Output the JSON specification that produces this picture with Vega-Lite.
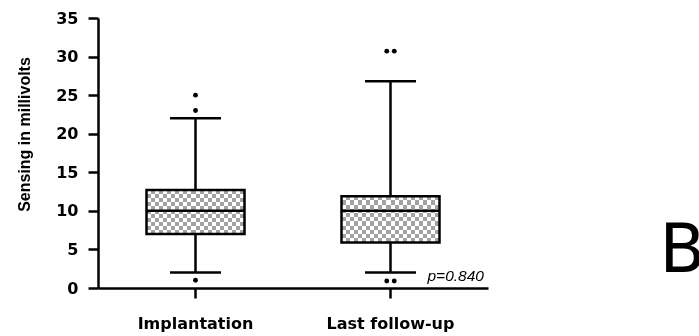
{
  "$schema": "https://vega.github.io/schema/vega-lite/v6.json",
  "width": 390,
  "height": 270,
  "padding": {"left": 16, "top": 10, "right": 0, "bottom": 5},
  "background": "white",
  "config": {
    "view": {"stroke": null},
    "axis": {
      "domainColor": "black", "domainWidth": 2.5, "tickColor": "black", "tickWidth": 2.5,
      "grid": false, "labelColor": "black", "titleColor": "black"
    },
    "axisY": {
      "tickCount": 7, "labelOverlap": false, "tickSize": 10, "labelPadding": 10,
      "labelFont": "DejaVu Sans", "labelFontWeight": "bold", "labelFontSize": 16,
      "titleFont": "Liberation Sans", "titleFontWeight": "bold", "titleFontSize": 16,
      "titlePadding": 23, "titleY": 116
    }
  },
  "datasets": {
    "boxes": [
      {"group": "Implantation", "lower": 2, "q1": 7, "median": 10, "q3": 12.7, "upper": 22},
      {"group": "Last follow-up", "lower": 2, "q1": 5.9, "median": 10, "q3": 11.9, "upper": 26.8}
    ],
    "outliers": [
      {"group": "Implantation", "value": 25, "copy": "only"},
      {"group": "Implantation", "value": 23, "copy": "only"},
      {"group": "Implantation", "value": 1, "copy": "only"},
      {"group": "Last follow-up", "value": 30.7, "copy": "1st"},
      {"group": "Last follow-up", "value": 30.7, "copy": "2nd"},
      {"group": "Last follow-up", "value": 0.9, "copy": "1st"},
      {"group": "Last follow-up", "value": 0.9, "copy": "2nd"}
    ],
    "pvalue": [{"group": "Last follow-up", "label": "p=0.840"}],
    "panel": [{"group": "Last follow-up", "label": "B"}]
  },
  "encoding": {
    "x": {
      "field": "group", "type": "nominal",
      "scale": {"domain": ["Implantation", "Last follow-up"], "paddingInner": 0, "paddingOuter": 0},
      "axis": {
        "title": null, "labelAngle": 0, "tickSize": 10, "labelPadding": 17,
        "labelFont": "DejaVu Sans", "labelFontWeight": "bold", "labelFontSize": 16
      }
    }
  },
  "layer": [
    {
      "data": {"name": "boxes"},
      "mark": {"type": "rule", "color": "black", "strokeWidth": 2.5},
      "encoding": {
        "y": {
          "field": "lower", "type": "quantitative",
          "scale": {"domain": [0, 35], "nice": false, "zero": true},
          "axis": {"title": "Sensing in millivolts"}
        },
        "y2": {"field": "upper"}
      }
    },
    {
      "data": {"name": "boxes"},
      "mark": {
        "type": "bar", "width": 98, "strokeWidth": 0,
        "fill": {
          "gradient": "linear", "x1": 0, "y1": 0, "x2": 1, "y2": 0,
          "stops": [
            {"offset": 0, "color": "#000000"}, {"offset": 0.041667, "color": "#000000"},
            {"offset": 0.041667, "color": "#5c5c5c"}, {"offset": 0.083333, "color": "#5c5c5c"},
            {"offset": 0.083333, "color": "#000000"}, {"offset": 0.125, "color": "#000000"},
            {"offset": 0.125, "color": "#5c5c5c"}, {"offset": 0.166667, "color": "#5c5c5c"},
            {"offset": 0.166667, "color": "#000000"}, {"offset": 0.208333, "color": "#000000"},
            {"offset": 0.208333, "color": "#5c5c5c"}, {"offset": 0.25, "color": "#5c5c5c"},
            {"offset": 0.25, "color": "#000000"}, {"offset": 0.291667, "color": "#000000"},
            {"offset": 0.291667, "color": "#5c5c5c"}, {"offset": 0.333333, "color": "#5c5c5c"},
            {"offset": 0.333333, "color": "#000000"}, {"offset": 0.375, "color": "#000000"},
            {"offset": 0.375, "color": "#5c5c5c"}, {"offset": 0.416667, "color": "#5c5c5c"},
            {"offset": 0.416667, "color": "#000000"}, {"offset": 0.458333, "color": "#000000"},
            {"offset": 0.458333, "color": "#5c5c5c"}, {"offset": 0.5, "color": "#5c5c5c"},
            {"offset": 0.5, "color": "#000000"}, {"offset": 0.541667, "color": "#000000"},
            {"offset": 0.541667, "color": "#5c5c5c"}, {"offset": 0.583333, "color": "#5c5c5c"},
            {"offset": 0.583333, "color": "#000000"}, {"offset": 0.625, "color": "#000000"},
            {"offset": 0.625, "color": "#5c5c5c"}, {"offset": 0.666667, "color": "#5c5c5c"},
            {"offset": 0.666667, "color": "#000000"}, {"offset": 0.708333, "color": "#000000"},
            {"offset": 0.708333, "color": "#5c5c5c"}, {"offset": 0.75, "color": "#5c5c5c"},
            {"offset": 0.75, "color": "#000000"}, {"offset": 0.791667, "color": "#000000"},
            {"offset": 0.791667, "color": "#5c5c5c"}, {"offset": 0.833333, "color": "#5c5c5c"},
            {"offset": 0.833333, "color": "#000000"}, {"offset": 0.875, "color": "#000000"},
            {"offset": 0.875, "color": "#5c5c5c"}, {"offset": 0.916667, "color": "#5c5c5c"},
            {"offset": 0.916667, "color": "#000000"}, {"offset": 0.958333, "color": "#000000"},
            {"offset": 0.958333, "color": "#5c5c5c"}, {"offset": 1, "color": "#5c5c5c"}
          ]
        }
      },
      "encoding": {
        "y": {"field": "q1", "type": "quantitative"},
        "y2": {"field": "q3"}
      }
    },
    {
      "data": {"name": "boxes"},
      "mark": {
        "type": "bar", "width": 98, "strokeWidth": 0, "blend": "difference",
        "fill": {
          "gradient": "linear", "x1": 0, "y1": 0, "x2": 0, "y2": 1,
          "stops": [
            {"offset": 0, "color": "#000000"}, {"offset": 0.090909, "color": "#000000"},
            {"offset": 0.090909, "color": "#5c5c5c"}, {"offset": 0.181818, "color": "#5c5c5c"},
            {"offset": 0.181818, "color": "#000000"}, {"offset": 0.272727, "color": "#000000"},
            {"offset": 0.272727, "color": "#5c5c5c"}, {"offset": 0.363636, "color": "#5c5c5c"},
            {"offset": 0.363636, "color": "#000000"}, {"offset": 0.454545, "color": "#000000"},
            {"offset": 0.454545, "color": "#5c5c5c"}, {"offset": 0.545455, "color": "#5c5c5c"},
            {"offset": 0.545455, "color": "#000000"}, {"offset": 0.636364, "color": "#000000"},
            {"offset": 0.636364, "color": "#5c5c5c"}, {"offset": 0.727273, "color": "#5c5c5c"},
            {"offset": 0.727273, "color": "#000000"}, {"offset": 0.818182, "color": "#000000"},
            {"offset": 0.818182, "color": "#5c5c5c"}, {"offset": 0.909091, "color": "#5c5c5c"},
            {"offset": 0.909091, "color": "#000000"}, {"offset": 1, "color": "#000000"}
          ]
        }
      },
      "encoding": {
        "y": {"field": "q1", "type": "quantitative"},
        "y2": {"field": "q3"}
      }
    },
    {
      "data": {"name": "boxes"},
      "mark": {"type": "bar", "width": 98, "strokeWidth": 0, "fill": "#ffffff", "blend": "difference"},
      "encoding": {
        "y": {"field": "q1", "type": "quantitative"},
        "y2": {"field": "q3"}
      }
    },
    {
      "data": {"name": "boxes"},
      "mark": {"type": "bar", "width": 98, "fillOpacity": 0, "stroke": "black", "strokeWidth": 2.5},
      "encoding": {
        "y": {"field": "q1", "type": "quantitative"},
        "y2": {"field": "q3"}
      }
    },
    {
      "data": {"name": "boxes"},
      "mark": {"type": "tick", "size": 98, "thickness": 2.5, "color": "black", "opacity": 1},
      "encoding": {"y": {"field": "median", "type": "quantitative"}}
    },
    {
      "data": {"name": "boxes"},
      "mark": {"type": "tick", "size": 51, "thickness": 2.5, "color": "black", "opacity": 1},
      "encoding": {"y": {"field": "lower", "type": "quantitative"}}
    },
    {
      "data": {"name": "boxes"},
      "mark": {"type": "tick", "size": 51, "thickness": 2.5, "color": "black", "opacity": 1},
      "encoding": {"y": {"field": "upper", "type": "quantitative"}}
    },
    {
      "data": {"name": "outliers"},
      "mark": {"type": "point", "filled": true, "color": "black", "size": 24, "opacity": 1},
      "encoding": {
        "y": {"field": "value", "type": "quantitative"},
        "xOffset": {
          "field": "copy", "type": "nominal",
          "scale": {"domain": ["1st", "only", "2nd"], "paddingInner": 0, "paddingOuter": 0, "range": [93.75, 101.25]}
        }
      }
    },
    {
      "data": {"name": "pvalue"},
      "mark": {"type": "text", "align": "left", "baseline": "alphabetic", "dx": 37, "font": "Liberation Sans", "fontStyle": "italic", "fontSize": 15.5, "color": "black"},
      "encoding": {
        "y": {"datum": 0.9, "type": "quantitative"},
        "text": {"field": "label"}
      }
    },
    {
      "data": {"name": "panel"},
      "mark": {"type": "text", "align": "left", "baseline": "alphabetic", "dx": 269, "font": "DejaVu Sans", "fontSize": 67, "color": "black"},
      "encoding": {
        "y": {"datum": 2.07, "type": "quantitative"},
        "text": {"field": "label"}
      }
    }
  ]
}
